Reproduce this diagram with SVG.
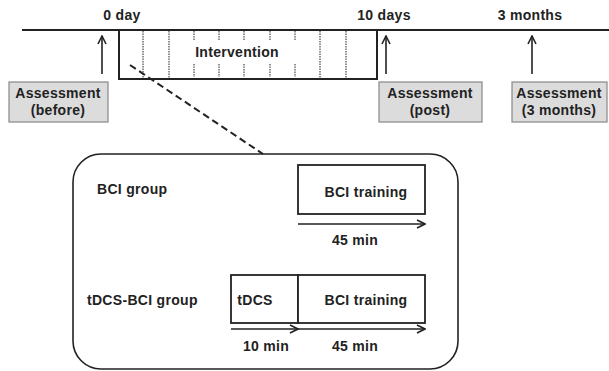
<svg xmlns="http://www.w3.org/2000/svg" width="609" height="371" viewBox="0 0 609 371">
<defs>
<style>
text{font-family:"Liberation Sans",Arial,sans-serif;font-weight:bold;font-size:14px;fill:#222;text-anchor:middle;letter-spacing:0.3px}
.ln{stroke:#222;stroke-width:2;fill:none}
.thin{stroke:#222;stroke-width:1.6;fill:none}
.box{fill:#fff;stroke:#222;stroke-width:1.8}
.ass{fill:#dcdcdc;stroke:#888;stroke-width:1.2}
.dot{stroke:#222;stroke-width:1;stroke-dasharray:1.5 1}
</style>
<marker id="ah" viewBox="0 0 10 10" refX="9" refY="5" markerWidth="10" markerHeight="10" markerUnits="userSpaceOnUse" orient="auto">
<path d="M1,1 L9,5 L1,9" fill="none" stroke="#222" stroke-width="1.6"/>
</marker>
</defs>
<g id="timeline">
<line class="ln" x1="22" y1="30" x2="609" y2="30"/>
<text x="122" y="20">0 day</text>
<text x="384" y="20">10 days</text>
<text x="530" y="20">3 months</text>
</g>
<g id="intervention">
<path class="ln" d="M119,30 V79 H377 V30"/>
<line class="dot" x1="143" y1="31" x2="143" y2="78"/>
<line class="dot" x1="169" y1="31" x2="169" y2="78"/>
<line class="dot" x1="194" y1="31" x2="194" y2="40"/>
<line class="dot" x1="194" y1="64" x2="194" y2="77"/>
<line class="dot" x1="219" y1="31" x2="219" y2="40"/>
<line class="dot" x1="219" y1="64" x2="219" y2="77"/>
<line class="dot" x1="244" y1="31" x2="244" y2="40"/>
<line class="dot" x1="244" y1="64" x2="244" y2="77"/>
<line class="dot" x1="270" y1="31" x2="270" y2="40"/>
<line class="dot" x1="270" y1="64" x2="270" y2="77"/>
<line class="dot" x1="295" y1="31" x2="295" y2="40"/>
<line class="dot" x1="295" y1="64" x2="295" y2="77"/>
<line class="dot" x1="320" y1="31" x2="320" y2="78"/>
<line class="dot" x1="346" y1="31" x2="346" y2="78"/>
<text x="237" y="57">Intervention</text>
</g>
<g id="connectors">
<line class="thin" x1="102" y1="74" x2="102" y2="36" marker-end="url(#ah)"/>
<line class="thin" x1="386" y1="74" x2="386" y2="36" marker-end="url(#ah)"/>
<line class="thin" x1="532" y1="74" x2="532" y2="36" marker-end="url(#ah)"/>
<line x1="130" y1="65" x2="263" y2="154" stroke="#222" stroke-width="2" stroke-dasharray="7 4"/>
<line class="thin" x1="298" y1="224" x2="425" y2="224" marker-end="url(#ah)"/>
<line class="thin" x1="231" y1="329" x2="298" y2="329" marker-end="url(#ah)"/>
<line class="thin" x1="298" y1="329" x2="425" y2="329" marker-end="url(#ah)"/>
</g>
<g id="assess-before">
<rect class="ass" x="9" y="82" width="99" height="40"/>
<text x="58" y="98">Assessment</text>
<text x="58" y="115">(before)</text>
</g>
<g id="assess-post">
<rect class="ass" x="379" y="82" width="103" height="40"/>
<text x="430" y="98">Assessment</text>
<text x="430" y="115">(post)</text>
</g>
<g id="assess-3m">
<rect class="ass" x="512" y="82" width="95" height="40"/>
<text x="559" y="98">Assessment</text>
<text x="559" y="115">(3 months)</text>
</g>
<g id="detail">
<rect x="73" y="154" width="385" height="215" rx="28" ry="28" fill="none" stroke="#222" stroke-width="1.6"/>
</g>
<g id="bci-group">
<text x="97" y="194" style="text-anchor:start">BCI group</text>
<rect class="box" x="298" y="165" width="127" height="49"/>
<text x="366" y="197">BCI training</text>
<text x="355" y="245">45 min</text>
</g>
<g id="tdcs-bci-group">
<text x="87" y="305" style="text-anchor:start">tDCS-BCI group</text>
<rect class="box" x="231" y="275" width="67" height="48"/>
<text x="255" y="305">tDCS</text>
<rect class="box" x="298" y="275" width="127" height="48"/>
<text x="366" y="305">BCI training</text>
<text x="266" y="351">10 min</text>
<text x="355" y="351">45 min</text>
</g>
</svg>
